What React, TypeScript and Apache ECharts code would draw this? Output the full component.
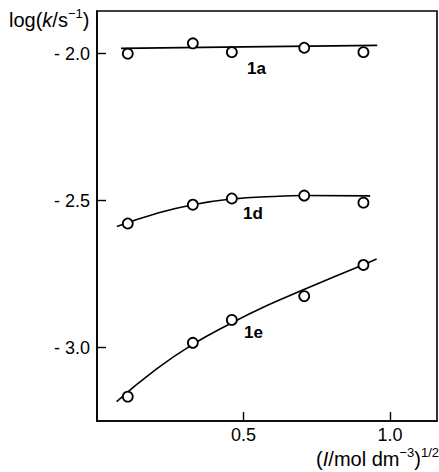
import React, { useEffect, useRef } from "react";
import * as echarts from "echarts";

// Measured points (x = (I/mol dm^-3)^1/2)
const xValues = [0.105, 0.327, 0.46, 0.707, 0.909];
const y1a = [-2.0, -1.965, -1.995, -1.98, -1.995];
const y1d = [-2.578, -2.514, -2.493, -2.483, -2.507];
const y1e = [-3.167, -2.984, -2.906, -2.825, -2.719];

// Drawn fitted curves
const fit1aX = [0.082, 0.5, 0.956];
const fit1aY = [-1.982, -1.977, -1.972];
const fit1dX = [0.068, 0.2, 0.327, 0.46, 0.6, 0.71, 0.932];
const fit1dY = [-2.588, -2.545, -2.514, -2.495, -2.486, -2.483, -2.484];
const fit1eX = [0.067, 0.2, 0.327, 0.456, 0.58, 0.71, 0.909, 0.954];
const fit1eY = [-3.184, -3.075, -2.989, -2.918, -2.857, -2.801, -2.718, -2.699];

const xTicks = [0.5, 1.0];
const yTicks = [-3.0, -2.5, -2.0];
const seriesNames = ["1a", "1d", "1e"];

const FONT = "Liberation Sans, Arial, Helvetica, sans-serif";

const zip = (xs: number[], ys: number[]) => xs.map((x, i) => [x, ys[i]]);

export default function App() {
  const ref = useRef<HTMLDivElement>(null);
  useEffect(() => {
    if (!ref.current) return;
    const chart = echarts.init(ref.current, null, { renderer: "svg" });
    const pointSets = [y1a, y1d, y1e];
    const fits = [
      zip(fit1aX, fit1aY),
      zip(fit1dX, fit1dY),
      zip(fit1eX, fit1eY),
    ];
    const labelPos = [
      [247, 60],
      [243, 205],
      [244, 324],
    ];
    const series: any[] = [];
    fits.forEach((d, i) => {
      series.push({
        type: "line",
        name: seriesNames[i] + " fit",
        data: d,
        smooth: 0.5,
        showSymbol: false,
        symbol: "none",
        lineStyle: { color: "#000", width: 1.6 },
        z: 2,
      });
    });
    pointSets.forEach((ys, i) => {
      series.push({
        type: "scatter",
        name: seriesNames[i],
        data: zip(xValues, ys),
        symbol: "circle",
        symbolSize: 10,
        itemStyle: { color: "#fff", borderColor: "#000", borderWidth: 1.8, opacity: 1 },
        z: 3,
      });
    });
    chart.setOption({
      animation: false,
      backgroundColor: "#fff",
      grid: {
        left: 97,
        top: 11,
        right: 2,
        bottom: 51,
        show: true,
        borderColor: "#000",
        borderWidth: 1.6,
        backgroundColor: "transparent",
      },
      xAxis: {
        type: "value",
        min: 0,
        max: 1.16,
        axisLine: { show: true, lineStyle: { color: "#000", width: 1.6 } },
        axisTick: {
          show: true,
          inside: true,
          length: 9,
          customValues: xTicks,
          lineStyle: { color: "#000", width: 1.4 },
        },
        axisLabel: {
          customValues: xTicks,
          formatter: (v: number) => v.toFixed(1),
          color: "#000",
          fontSize: 18,
          fontFamily: FONT,
          margin: 5,
        },
        splitLine: { show: false },
      },
      yAxis: {
        type: "value",
        min: -3.25,
        max: -1.855,
        axisLine: { show: true, lineStyle: { color: "#000", width: 1.6 } },
        axisTick: {
          show: true,
          inside: true,
          length: 9,
          customValues: yTicks,
          lineStyle: { color: "#000", width: 1.4 },
        },
        axisLabel: {
          customValues: yTicks,
          formatter: (v: number) => "- " + Math.abs(v).toFixed(1),
          color: "#000",
          fontSize: 18,
          fontFamily: FONT,
          margin: 7,
        },
        splitLine: { show: false },
      },
      series,
      graphic: [
        ...seriesNames.map((n, i) => ({
          type: "text",
          x: labelPos[i][0],
          y: labelPos[i][1],
          style: {
            text: n,
            font: "bold 17px " + FONT,
            fill: "#000",
            verticalAlign: "top",
          },
        })),
        {
          type: "text",
          x: 9,
          y: 7,
          style: {
            text: "{n|log(}{i|k}{n|/s}{s|−1}{n|)}",
            verticalAlign: "top",
            rich: {
              n: { fontSize: 20, lineHeight: 25, fontFamily: FONT, color: "#000" },
              i: { fontSize: 20, lineHeight: 25, fontFamily: FONT, fontStyle: "italic", color: "#000" },
              s: { fontSize: 13, lineHeight: 14, fontFamily: FONT, color: "#000", verticalAlign: "top" },
            },
          },
        },
        {
          type: "text",
          x: 439,
          y: 446,
          style: {
            text: "{n|(}{i|I}{n|/mol dm}{s|−3}{n|)}{s|1/2}",
            align: "right",
            verticalAlign: "top",
            rich: {
              n: { fontSize: 20, lineHeight: 25, fontFamily: FONT, color: "#000" },
              i: { fontSize: 20, lineHeight: 25, fontFamily: FONT, fontStyle: "italic", color: "#000" },
              s: { fontSize: 13, lineHeight: 14, fontFamily: FONT, color: "#000", verticalAlign: "top" },
            },
          },
        },
      ],
    });
    return () => chart.dispose();
  }, []);
  return (
    <div
      ref={ref}
      style={{ position: "fixed", left: 0, top: 0, width: 439, height: 472 }}
    />
  );
}
